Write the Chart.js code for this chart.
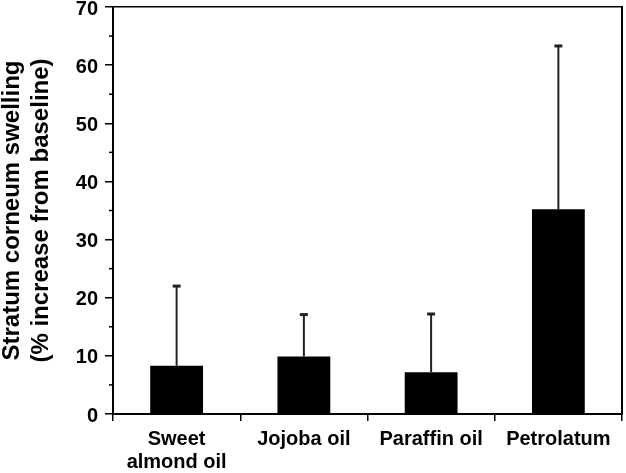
<!DOCTYPE html>
<html>
<head>
<meta charset="utf-8">
<script src="https://cdn.jsdelivr.net/npm/chart.js@4/dist/chart.umd.min.js"></script>
<style>
  html, body { margin: 0; padding: 0; background: #fff; }
  #wrap { width: 626px; height: 473px; }
</style>
</head>
<body>
<div id="wrap"><canvas id="myChart"></canvas></div>
<script>
const categories = [['Sweet', 'almond oil'], 'Jojoba oil', 'Paraffin oil', 'Petrolatum'];
const swelling = [8.3, 9.9, 7.2, 35.2];
const errorTop = [22.0, 17.1, 17.2, 63.3];
const yTicks = [0, 10, 20, 30, 40, 50, 60, 70];
const yMinorTicks = [5, 15, 25, 35, 45, 55, 65];

const family = '"Liberation Sans", Arial, sans-serif';
const tickFont = { family: family, size: 20, weight: 'bold', lineHeight: 1.15 };
const titleFont = { family: family, size: 24, weight: 'bold', lineHeight: 1.2 };

// upper error bars + minor y ticks, placed through the y scale
const extras = {
  id: 'extras',
  afterDatasetsDraw(chart) {
    const ctx = chart.ctx;
    const y = chart.scales.y;
    const meta = chart.getDatasetMeta(0);
    ctx.save();
    ctx.strokeStyle = '#222';
    meta.data.forEach((bar, i) => {
      const top = y.getPixelForValue(errorTop[i]);
      ctx.lineWidth = 2;
      ctx.beginPath();
      ctx.moveTo(bar.x, bar.y);
      ctx.lineTo(bar.x, top);
      ctx.stroke();
      ctx.lineWidth = 3;
      ctx.beginPath();
      ctx.moveTo(bar.x - 4, top);
      ctx.lineTo(bar.x + 4, top);
      ctx.stroke();
    });
    ctx.strokeStyle = '#000';
    ctx.lineWidth = 1.5;
    yMinorTicks.forEach((v) => {
      const py = y.getPixelForValue(v);
      ctx.beginPath();
      ctx.moveTo(y.right - 4, py);
      ctx.lineTo(y.right, py);
      ctx.stroke();
    });
    ctx.restore();
  }
};

new Chart(document.getElementById('myChart'), {
  type: 'bar',
  data: {
    labels: categories,
    datasets: [{
      data: swelling,
      backgroundColor: '#000',
      borderWidth: 0,
      categoryPercentage: 1,
      barPercentage: 0.415
    }]
  },
  options: {
    responsive: true,
    maintainAspectRatio: false,
    animation: false,
    layout: { padding: { top: 7, right: 4, left: 0, bottom: 0 } },
    plugins: { legend: { display: false }, tooltip: { enabled: false } },
    scales: {
      x: {
        offset: true,
        afterFit: (scale) => { scale.height = 59; scale.paddingLeft = 0; scale.paddingRight = 0; },
        grid: { drawOnChartArea: false, offset: true, tickLength: 7, color: '#000', lineWidth: 1.5 },
        border: { color: '#000', width: 2 },
        ticks: { font: tickFont, color: '#000', maxRotation: 0, autoSkip: false, padding: 7 }
      },
      xTop: {
        position: 'top',
        afterFit: (scale) => { scale.height = 0; },
        grid: { display: false, drawTicks: false },
        border: { color: '#000', width: 1.5 },
        ticks: { display: false }
      },
      y: {
        min: 0,
        max: 70,
        afterFit: (scale) => { scale.width = 113; scale.paddingTop = 0; scale.paddingBottom = 0; },
        afterBuildTicks: (scale) => { scale.ticks = yTicks.map((v) => ({ value: v })); },
        grid: { drawOnChartArea: false, tickLength: 8, color: '#000', lineWidth: 1.5 },
        border: { color: '#000', width: 2 },
        ticks: { font: tickFont, color: '#000', padding: 7, labelOffset: 2 },
        title: {
          display: true,
          text: ['Stratum corneum swelling', '(% increase from baseline)'],
          font: titleFont,
          color: '#000',
          padding: { top: -2, bottom: 0 }
        }
      },
      yRight: {
        position: 'right',
        afterFit: (scale) => { scale.width = 0; },
        grid: { display: false, drawTicks: false },
        border: { color: '#000', width: 2 },
        ticks: { display: false }
      }
    }
  },
  plugins: [extras]
});
</script>
</body>
</html>
